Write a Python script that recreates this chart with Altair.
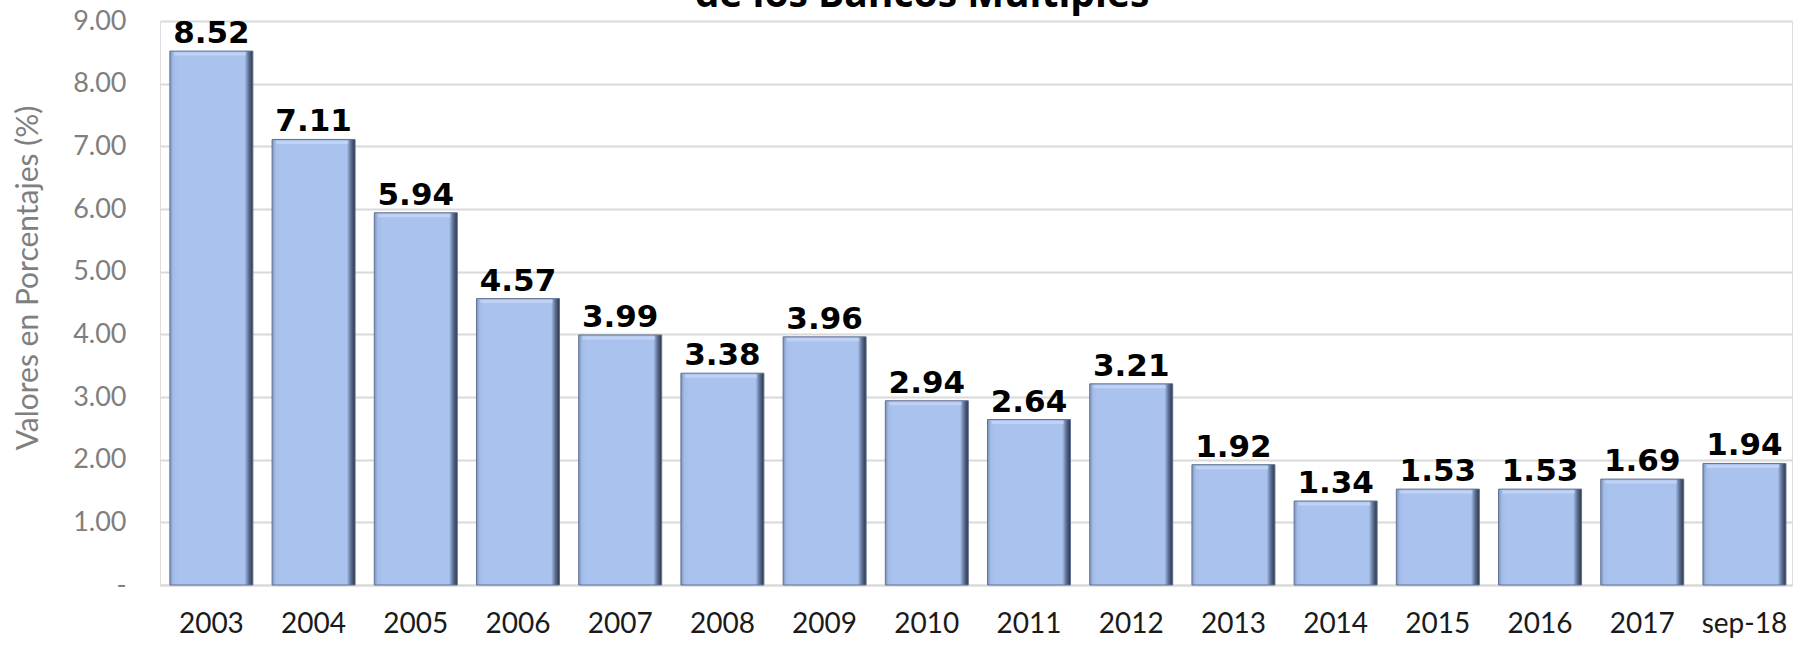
import altair as alt
import pandas as pd

categories = ["2003", "2004", "2005", "2006", "2007", "2008", "2009", "2010",
              "2011", "2012", "2013", "2014", "2015", "2016", "2017", "sep-18"]
values = [8.52, 7.11, 5.94, 4.57, 3.99, 3.38, 3.96, 2.94,
          2.64, 3.21, 1.92, 1.34, 1.53, 1.53, 1.69, 1.94]
y_ticks = [0, 1, 2, 3, 4, 5, 6, 7, 8, 9]
title_text = "de los Bancos Múltiples"
y_title = "Valores en Porcentajes (%)"

df = pd.DataFrame({"cat": categories, "val": values, "zero": [0] * len(values)})

W, H = 1632, 564
PAD = {"left": 160, "top": 21, "right": 16, "bottom": 64}

xscale = alt.Scale(paddingInner=0.188, paddingOuter=0.078, align=0.62)
yscale = alt.Scale(domain=[0, 9], nice=False)

x = alt.X("cat:N", sort=categories, scale=xscale,
          axis=alt.Axis(title=None, labelAngle=0, labelFont="Lato", labelFontSize=28,
                        labelColor="#1a1a1a", labelPadding=25, ticks=False,
                        domain=True, domainColor="#d9d9d9", domainWidth=2))
y = alt.Y("val:Q", scale=yscale,
          axis=alt.Axis(title=None, values=y_ticks, labelFont="Lato", labelFontSize=27,
                        labelColor="#7f7f7f", labelPadding=34, ticks=False, domain=False,
                        gridColor="#d9d9d9", gridWidth=2,
                        labelExpr="datum.value == 0 ? '-' : format(datum.value, '.2f')"))

xc = alt.X("cat:N", sort=categories)

grad = alt.Gradient(
    gradient="linear", x1=0, x2=1, y1=0, y2=0,
    stops=[alt.GradientStop(offset=0, color="#7f93b9"),
           alt.GradientStop(offset=0.04, color="#a3bce8"),
           alt.GradientStop(offset=0.1, color="#aac3ee"),
           alt.GradientStop(offset=0.9, color="#aac3ee"),
           alt.GradientStop(offset=0.95, color="#5d6f92"),
           alt.GradientStop(offset=1, color="#2a3447")])

bars = alt.Chart(df).mark_bar(color=grad, stroke="#5f7194", strokeWidth=1).encode(x=x, y=y)

bottom_edge = alt.Chart(df).mark_bar(color="#5a6c90", opacity=0.75).encode(
    x=xc, y=alt.Y("zero:Q"), y2=alt.value(H - 5))

top_edge = alt.Chart(df).mark_tick(color="#c3d4f3", thickness=3, size=72, opacity=0.9).encode(
    x=xc, y=alt.Y("val:Q"), yOffset=alt.value(3), xOffset=alt.value(40))

labels = alt.Chart(df).mark_text(font="DejaVu Sans", fontWeight="bold", fontSize=31,
                                 color="#000000", baseline="alphabetic", dy=-8).encode(
    x=xc, y="val:Q", text=alt.Text("val:Q", format=".2f"))

title = alt.Chart(pd.DataFrame({"t": [title_text]})).mark_text(
    font="Open Sans", fontWeight="bold", fontSize=39, color="#000000",
    baseline="alphabetic", align="center").encode(
    x=alt.value(762), y=alt.value(-14), text="t:N")

ytitle = alt.Chart(pd.DataFrame({"t": [y_title]})).mark_text(
    font="Lato", fontSize=30, color="#7f7f7f", angle=270,
    baseline="middle", align="center").encode(
    x=alt.value(-131), y=alt.value(257), text="t:N")

chart = alt.layer(bars, bottom_edge, top_edge, labels, title, ytitle).properties(
    width=W, height=H, autosize=alt.AutoSizeParams(type="none"), padding=PAD
).configure_view(stroke=None).configure(background="white")

chart.save("out.html", embed_options={"renderer": "svg", "actions": False})
